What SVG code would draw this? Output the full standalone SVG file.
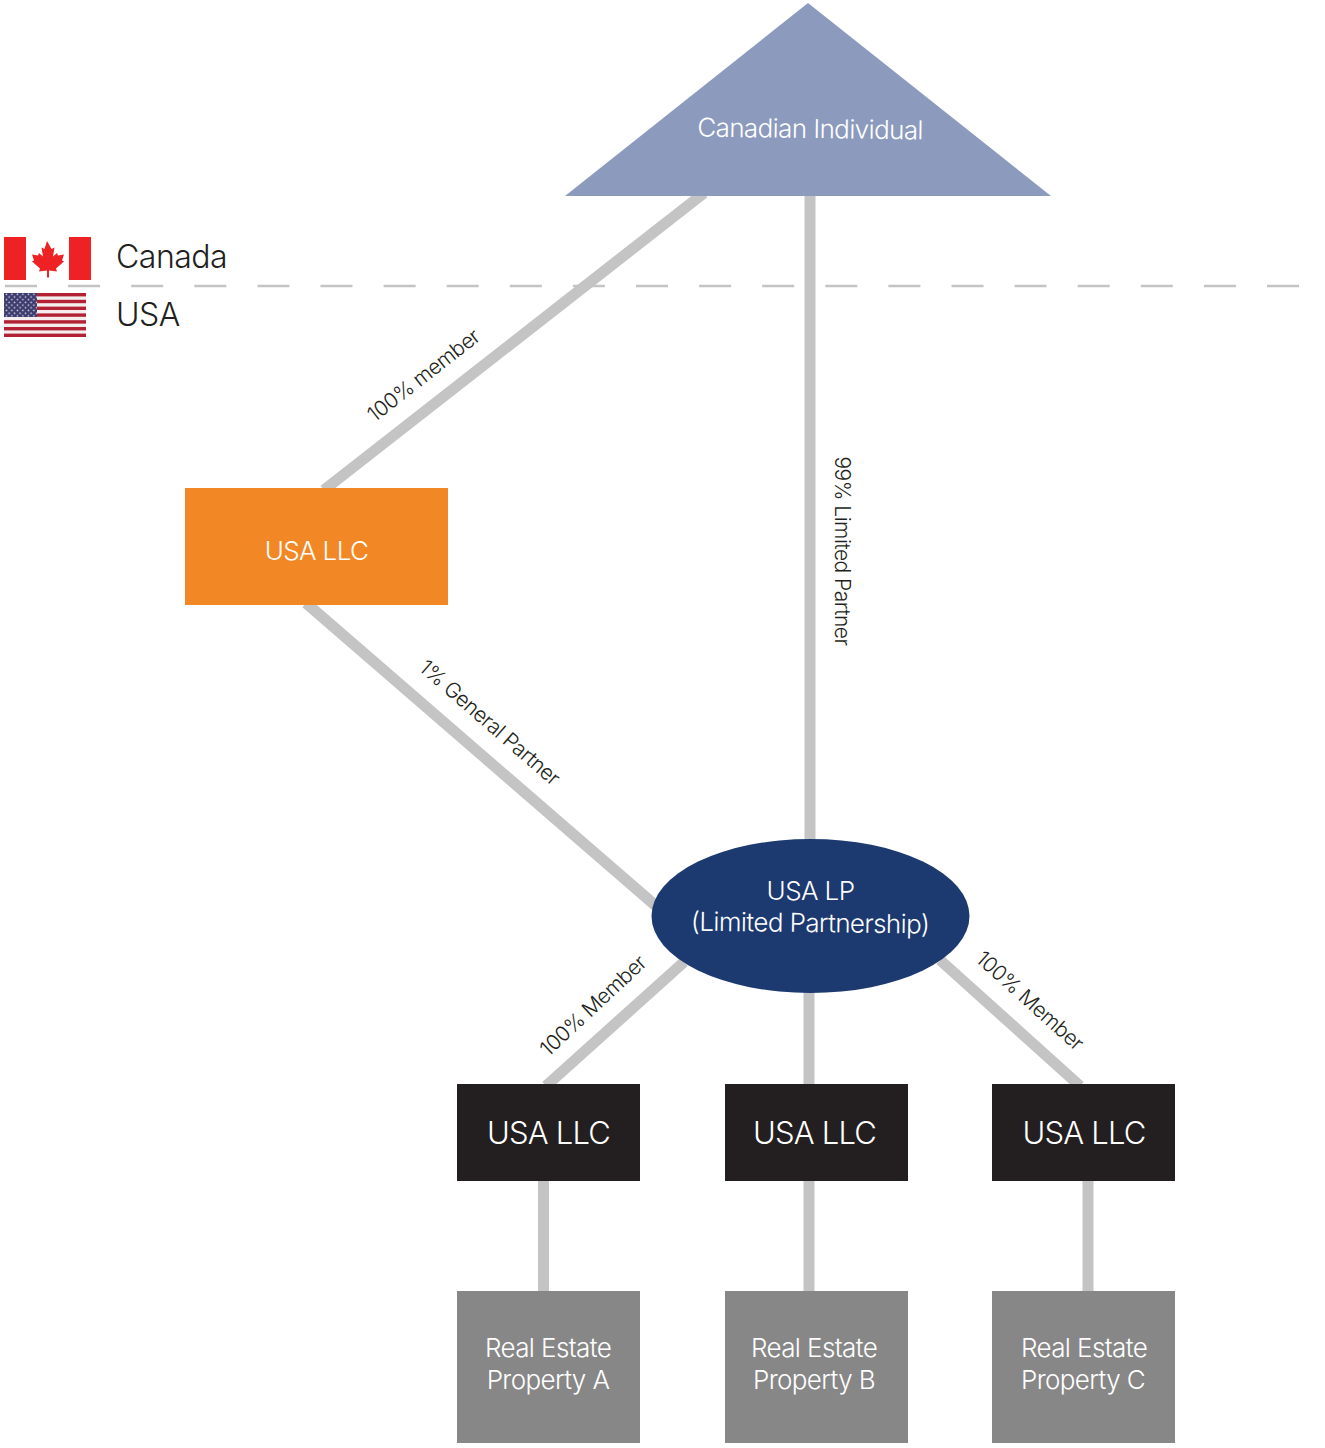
<svg xmlns="http://www.w3.org/2000/svg" width="1325" height="1448" viewBox="0 0 1325 1448">
<defs>
<style>
text{font-family:Inter,"Noto Sans","Liberation Sans",sans-serif;font-weight:300;text-anchor:middle}
.c{stroke:#c4c4c4;stroke-width:11;fill:none}
.w{fill:#fff;font-size:26px;letter-spacing:-.6px}
.b{fill:#fff;font-size:31px;letter-spacing:-.8px}
.l{fill:#231f20;font-size:21px;letter-spacing:-.5px}
.k{fill:#231f20;font-size:32px;text-anchor:start;letter-spacing:-.5px}
.red{fill:#b22234}
</style>
<pattern id="stars" x="5" y="293" width="5.5" height="5.4" patternUnits="userSpaceOnUse">
<circle cx="1.4" cy="1.3" r=".8" fill="#fff" opacity=".85"/>
<circle cx="4.1" cy="4" r=".8" fill="#fff" opacity=".85"/>
</pattern>
</defs>
<rect width="1325" height="1448" fill="#fff"/>
<g id="connectors">
<line id="border" x1="4" y1="286" x2="1325" y2="286" stroke="#c4c4c4" stroke-width="2.5" stroke-dasharray="32 31.1" stroke-dashoffset="-1"/>
<line class="c" x1="704" y1="193" x2="324" y2="490"/>
<line class="c" x1="810" y1="190" x2="810" y2="845"/>
<line class="c" x1="306" y1="603" x2="656" y2="906"/>
<line class="c" x1="684" y1="962" x2="546" y2="1086"/>
<line class="c" x1="809" y1="985" x2="809" y2="1090"/>
<line class="c" x1="940" y1="960" x2="1080" y2="1086"/>
<line class="c" x1="543.500" y1="1175" x2="543.500" y2="1295"/>
<line class="c" x1="809" y1="1175" x2="809" y2="1295"/>
<line class="c" x1="1088" y1="1175" x2="1088" y2="1295"/>
</g>
<g id="legend-canada">
<rect x="4" y="237" width="22" height="43" fill="#ee2224"/>
<rect x="69" y="237" width="22" height="43" fill="#ee2224"/>
<path fill="#ee2224" d="M47 241l4.500 8 3-1.500-1.500 9 4-3.500 1 2.500 6-1-2 6 2 1-8 7 1 3-8-1v7h-2v-7l-8 1 1-3-8-7 2-1-2-6 6 1 1-2.500 4 3.500-1.500-9 3 1.500z"/>
<text class="k" x="116" y="268">Canada</text>
</g>
<g id="legend-usa">
<rect x="4" y="293" width="82" height="44" fill="#f4eeee"/>
<rect class="red" x="37" y="293" width="49" height="3.400"/>
<rect class="red" x="37" y="299.800" width="49" height="3.400"/>
<rect class="red" x="37" y="306.600" width="49" height="3.400"/>
<rect class="red" x="37" y="313.400" width="49" height="3.400"/>
<rect class="red" x="4" y="320.200" width="82" height="3.400"/>
<rect class="red" x="4" y="327" width="82" height="3.400"/>
<rect class="red" x="4" y="333.600" width="82" height="3.400"/>
<rect x="4" y="293" width="33" height="24" fill="#3c3b6e"/>
<rect x="4" y="293" width="33" height="24" fill="url(#stars)"/>
<text class="k" x="116" y="326">USA</text>
</g>
<g id="canadian-individual">
<polygon points="808,3 1051,196 565,196" fill="#8c9abd"/>
<text class="w" x="810" y="138" transform="rotate(.7 810 138)">Canadian Individual</text>
</g>
<g id="usa-llc-orange">
<rect x="185" y="488" width="263" height="117" fill="#f28825"/>
<text class="w" x="316.500" y="560">USA LLC</text>
</g>
<g id="usa-lp">
<ellipse cx="810.500" cy="916" rx="159" ry="77" fill="#1c3a70"/>
<text class="w" x="810.500" y="900">USA LP</text>
<text class="w" x="810" y="932" transform="rotate(.7 810 932)">(Limited Partnership)</text>
</g>
<g id="llc-a"><rect x="457" y="1084" width="183" height="97" fill="#231f20"/><text class="b" x="548.500" y="1144">USA LLC</text></g>
<g id="llc-b"><rect x="725" y="1084" width="183" height="97" fill="#231f20"/><text class="b" x="814.500" y="1144">USA LLC</text></g>
<g id="llc-c"><rect x="992" y="1084" width="183" height="97" fill="#231f20"/><text class="b" x="1084" y="1144">USA LLC</text></g>
<g id="property-a"><rect x="457" y="1291" width="183" height="152" fill="#878787"/><text class="w" x="548" y="1357">Real Estate</text><text class="w" x="548" y="1389">Property A</text></g>
<g id="property-b"><rect x="725" y="1291" width="183" height="152" fill="#878787"/><text class="w" x="814" y="1357">Real Estate</text><text class="w" x="814" y="1389">Property B</text></g>
<g id="property-c"><rect x="992" y="1291" width="183" height="152" fill="#878787"/><text class="w" x="1084" y="1357">Real Estate</text><text class="w" x="1083" y="1389">Property C</text></g>
<g id="connector-labels">
<text class="l" transform="translate(428 381) rotate(-38)">100% member</text>
<text class="l" transform="translate(835 551) rotate(90)">99% Limited Partner</text>
<text class="l" transform="translate(485 728) rotate(41)">1% General Partner</text>
<text class="l" transform="translate(598 1011) rotate(-43)">100% Member</text>
<text class="l" transform="translate(1025 1006) rotate(42)">100% Member</text>
</g>
</svg>
